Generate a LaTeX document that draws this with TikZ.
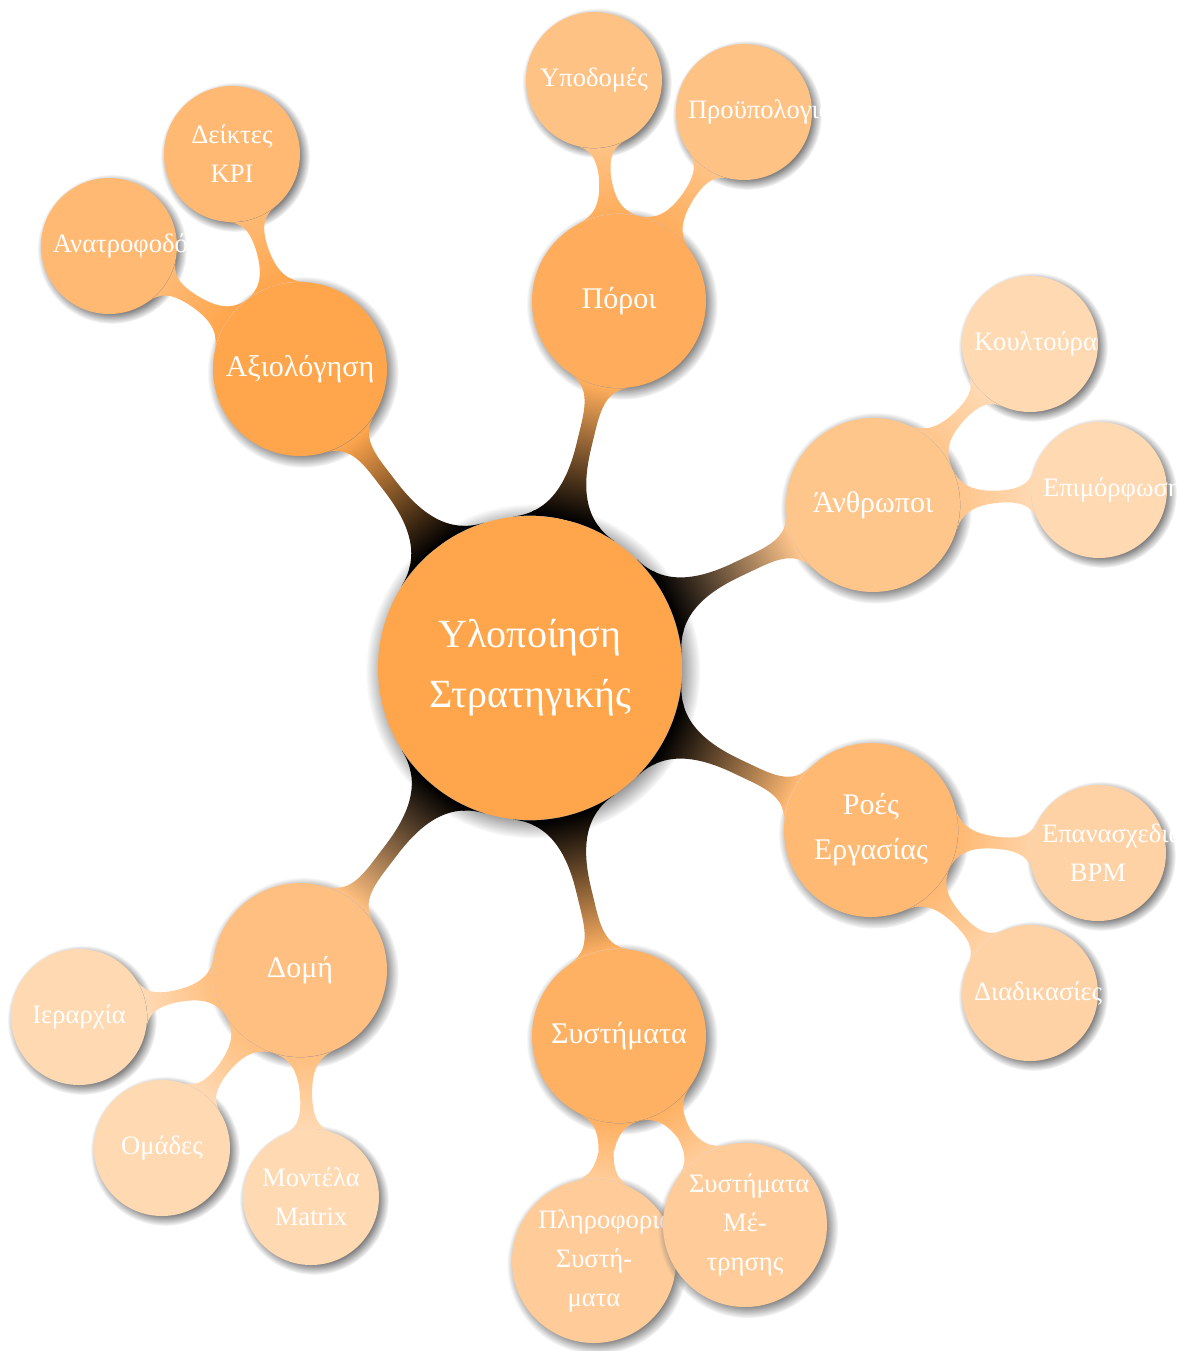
\documentclass[tikz,border=0pt]{standalone}
\usepackage{fontspec}
\setmainfont{Liberation Serif}
\usetikzlibrary{mindmap,shadows}
\lefthyphenmin=62
\colorlet{cRoot}{orange!70}
\colorlet{cEval}{orange!70}
\colorlet{cEvalL}{orange!55}
\colorlet{cRes}{orange!64}
\colorlet{cResL}{orange!48}
\colorlet{cPeop}{orange!45}
\colorlet{cPeopL}{orange!30}
\colorlet{cFlow}{orange!55}
\colorlet{cFlowL}{orange!35}
\colorlet{cSys}{orange!61}
\colorlet{cSysL}{orange!40}
\colorlet{cStr}{orange!50}
\colorlet{cStrL}{orange!30}
\begin{document}
\begin{tikzpicture}[x=0.5pt,y=-0.5pt,
  bubble/.style={circle, inner sep=0pt, text=white, align=center, circular drop shadow},
  rootbubble/.style={bubble, minimum size=152pt, font=\fontsize{20}{30}\selectfont},
  mainbubble/.style={bubble, minimum size=87pt, font=\fontsize{15}{22.5}\selectfont},
  leafbubble/.style={bubble, minimum size=68pt, text width=56pt, font=\fontsize{13.3}{19.5}\selectfont},
  bigleaf/.style={leafbubble, minimum size=82pt},
  trunk/.style={line width=7.5pt},
  twig/.style={line width=5pt},
]
\useasboundingbox (0,0) rectangle (1177,1351);

% centre
\node[rootbubble, fill=cRoot] (root) at (530,668) {Υλοποίηση\\Στρατηγικής};

% first level
\node[mainbubble, fill=cEval] (eval) at (300,369) {Αξιολόγηση};
\node[mainbubble, fill=cRes]  (res)  at (619,301) {Πόροι};
\node[mainbubble, fill=cPeop] (peop) at (873,505) {Άνθρωποι};
\node[mainbubble, fill=cFlow] (flow) at (871,830) {Ροές\\Εργασίας};
\node[mainbubble, fill=cSys]  (sys)  at (619,1036) {Συστήματα};
\node[mainbubble, fill=cStr]  (str)  at (300,970) {Δομή};

% second level
\node[leafbubble, fill=cEvalL] (kpi)  at (232,154) {Δείκτες\\KPI};
\node[leafbubble, fill=cEvalL] (fb)   at (109,246) {Ανατροφοδότηση};
\node[leafbubble, fill=cResL]  (infr) at (594,80)  {Υποδομές};
\node[leafbubble, fill=cResL]  (budg) at (744,112) {Προϋπολογισμός};
\node[leafbubble, fill=cPeopL] (cult) at (1030,344) {Κουλτούρα};
\node[leafbubble, fill=cPeopL] (train) at (1099,490) {Επιμόρφωση};
\node[leafbubble, fill=cFlowL] (bpm)  at (1098,853) {Επανασχεδιασμός\\BPM};
\node[leafbubble, fill=cFlowL] (proc) at (1030,993) {Διαδικασίες};
\node[bigleaf,   fill=cSysL]   (info) at (594,1261) {Πληροφοριακά\\Συστή-\\ματα};
\node[bigleaf,   fill=cSysL]   (meas) at (745,1225) {Συστήματα\\Μέ-\\τρησης};
\node[leafbubble, fill=cStrL]  (hier) at (79,1017) {Ιεραρχία};
\node[leafbubble, fill=cStrL]  (team) at (162,1148) {Ομάδες};
\node[leafbubble, fill=cStrL]  (matr) at (311,1197) {Μοντέλα\\Matrix};

% connection bars
\begin{scope}[mindmap]
\path[trunk] (root) to[circle connection bar switch color=from (black) to (cEval)] (eval);
\path[trunk] (root) to[circle connection bar switch color=from (black) to (cRes)] (res);
\path[trunk] (root) to[circle connection bar switch color=from (black) to (cPeop)] (peop);
\path[trunk] (root) to[circle connection bar switch color=from (black) to (cFlow)] (flow);
\path[trunk] (root) to[circle connection bar switch color=from (black) to (cSys)] (sys);
\path[trunk] (root) to[circle connection bar switch color=from (black) to (cStr)] (str);
\path[twig] (eval) to[circle connection bar switch color=from (cEval) to (cEvalL)] (kpi);
\path[twig] (eval) to[circle connection bar switch color=from (cEval) to (cEvalL)] (fb);
\path[twig] (res) to[circle connection bar switch color=from (cRes) to (cResL)] (infr);
\path[twig] (res) to[circle connection bar switch color=from (cRes) to (cResL)] (budg);
\path[twig] (peop) to[circle connection bar switch color=from (cPeop) to (cPeopL)] (cult);
\path[twig] (peop) to[circle connection bar switch color=from (cPeop) to (cPeopL)] (train);
\path[twig] (flow) to[circle connection bar switch color=from (cFlow) to (cFlowL)] (bpm);
\path[twig] (flow) to[circle connection bar switch color=from (cFlow) to (cFlowL)] (proc);
\path[twig] (sys) to[circle connection bar switch color=from (cSys) to (cSysL)] (info);
\path[twig] (sys) to[circle connection bar switch color=from (cSys) to (cSysL)] (meas);
\path[twig] (str) to[circle connection bar switch color=from (cStr) to (cStrL)] (hier);
\path[twig] (str) to[circle connection bar switch color=from (cStr) to (cStrL)] (team);
\path[twig] (str) to[circle connection bar switch color=from (cStr) to (cStrL)] (matr);
\end{scope}
\end{tikzpicture}
\end{document}
